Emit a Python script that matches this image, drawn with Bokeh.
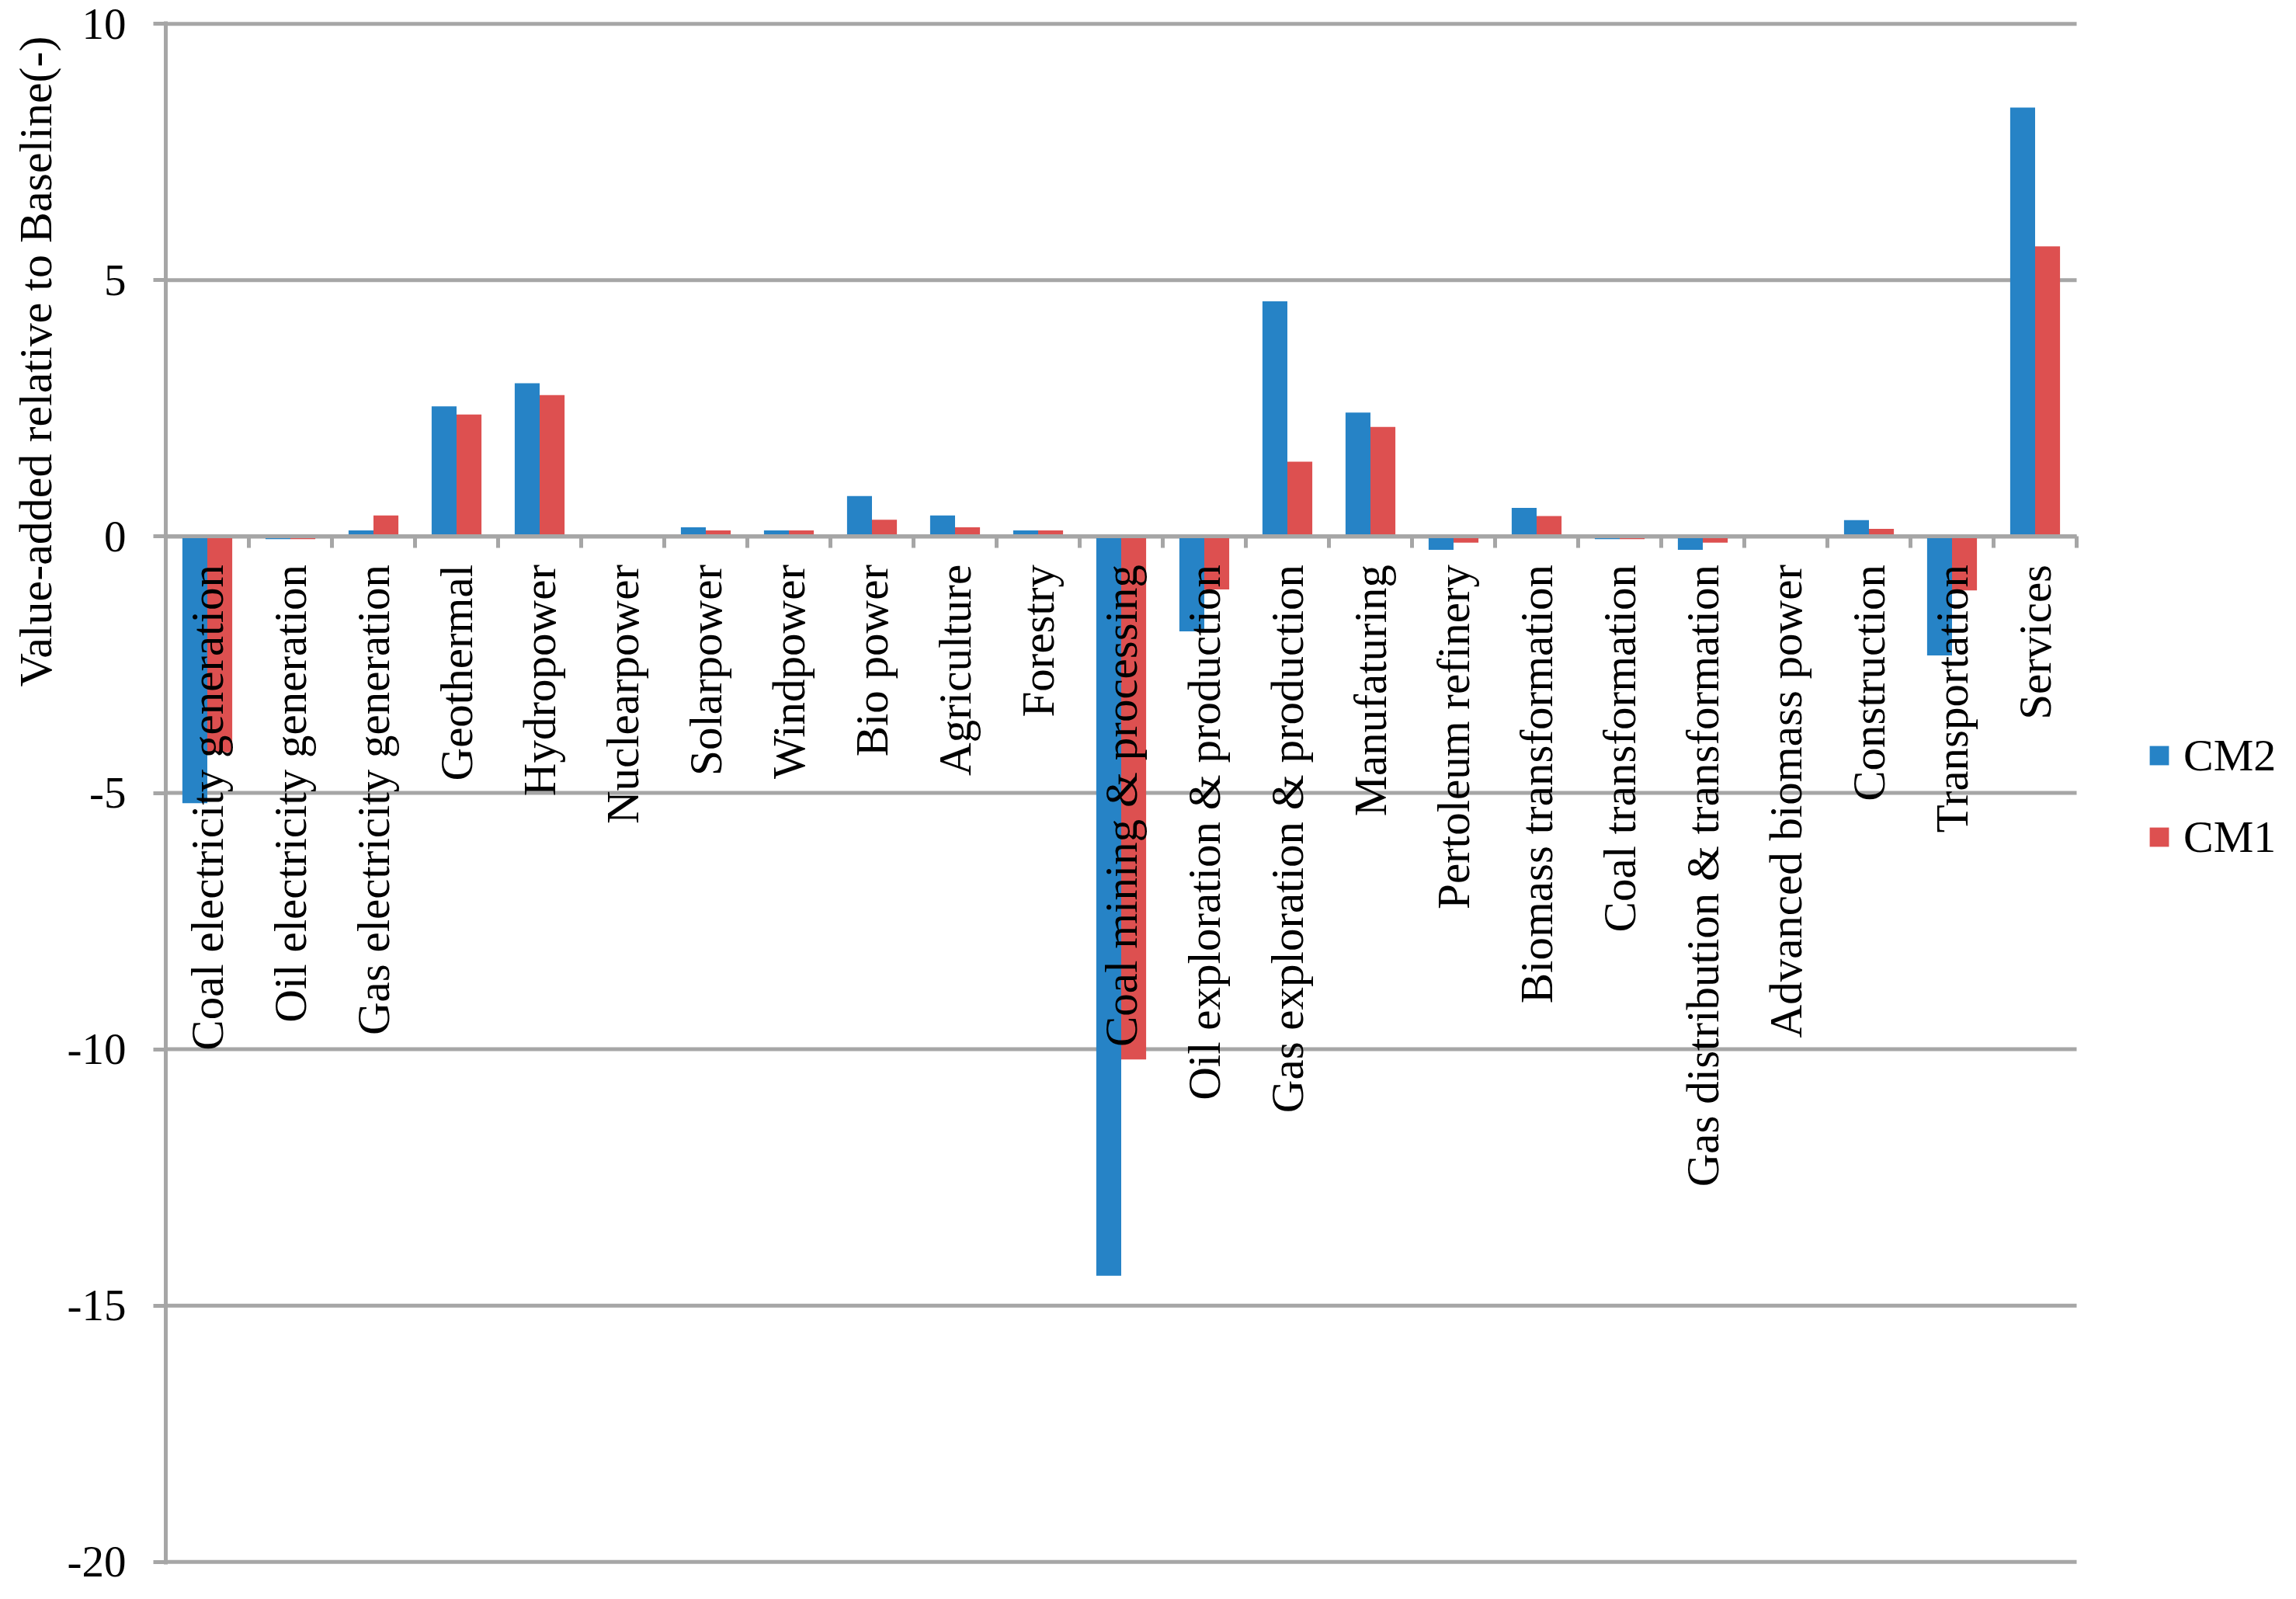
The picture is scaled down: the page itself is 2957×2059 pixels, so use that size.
import math
import numpy as np
from bokeh.plotting import figure
from bokeh.models import (Range1d, FixedTicker, ColumnDataSource, Title, Legend)
from bokeh.core.properties import value
from bokeh.embed import file_html
from bokeh.resources import INLINE

categories = [
    "Coal electricity generation", "Oil electricity generation", "Gas electricity generation",
    "Geothermal", "Hydropower", "Nuclearpower", "Solarpower", "Windpower", "Bio power",
    "Agriculture", "Forestry", "Coal mining & processing", "Oil exploration & production",
    "Gas exploration & production", "Manufaturing", "Pertoleum refinery",
    "Biomass transformation", "Coal transformation", "Gas distribution & transformation",
    "Advanced biomass power", "Construction", "Transportation", "Services",
]
cm2 = [-5.20, -0.05, 0.12, 2.54, 2.99, 0.0, 0.18, 0.12, 0.79, 0.41, 0.12, -14.42, -1.85,
       4.59, 2.42, -0.26, 0.56, -0.05, -0.26, 0.0, 0.32, -2.32, 8.37]
cm1 = [-4.21, -0.05, 0.41, 2.38, 2.76, 0.0, 0.12, 0.12, 0.33, 0.18, 0.12, -10.20, -1.03,
       1.46, 2.14, -0.12, 0.40, -0.05, -0.12, 0.0, 0.15, -1.05, 5.66]
y_ticks = [-20, -15, -10, -5, 0, 5, 10]
series_names = ["CM2", "CM1"]
y_title = "Value-added relative to Baseline(-)"

BLUE = "#2683C6"
RED = "#DD5050"
GRAY = "#A6A6A6"
FONT = "Liberation Serif"

n = len(categories)
centers = np.arange(n) + 0.5
bar_w = 0.3

# frame geometry: categories occupy 2461 px; frame extends further right to host the legend
FIG_W, FIG_H = 2940, 2043
LEFT, TOP, BOTTOM, RIGHT = 213, 27, 29, 10
cat_px = 2461.0 / n
x_end = (FIG_W - LEFT - RIGHT) / cat_px

src = ColumnDataSource(dict(
    x2=centers - bar_w / 2, x1=centers + bar_w / 2, xc=centers,
    cm2=cm2, cm1=cm1, cat=categories,
))
grid_src = ColumnDataSource(dict(y=y_ticks, x0=[0] * len(y_ticks), x1=[n] * len(y_ticks)))

p = figure(width=FIG_W, height=FIG_H, output_backend="svg", toolbar_location=None,
           x_range=Range1d(0, x_end), y_range=Range1d(-20.05, 10.05),
           min_border_left=LEFT, min_border_right=RIGHT, min_border_top=TOP,
           min_border_bottom=BOTTOM, title=None)
p.outline_line_color = None
p.background_fill_color = "white"

# horizontal gridlines limited to the category span
p.segment(x0="x0", x1="x1", y0="y", y1="y", source=grid_src,
          line_color=GRAY, line_width=5)

r2 = p.vbar(x="x2", top="cm2", bottom=0, width=bar_w, source=src,
            fill_color=BLUE, line_color=None)
r1 = p.vbar(x="x1", top="cm1", bottom=0, width=bar_w, source=src,
            fill_color=RED, line_color=None)

# y axis
yax = p.yaxis[0]
yax.ticker = FixedTicker(ticks=y_ticks)
yax.major_label_overrides = {t: str(t) for t in y_ticks}
yax.axis_line_color = GRAY
yax.axis_line_width = 5
yax.major_tick_line_color = GRAY
yax.major_tick_line_width = 5
yax.major_tick_out = 16
yax.major_tick_in = 0
yax.minor_tick_line_color = None
yax.major_label_standoff = 35
yax.major_label_text_font = FONT
yax.major_label_text_font_size = "57px"
yax.major_label_text_color = "black"

# x axis at y = 0 with ticks at category boundaries
xax = p.xaxis[0]
xax.fixed_location = 0
xax.bounds = (0, n)
xax.ticker = FixedTicker(ticks=list(range(n + 1)))
xax.major_label_overrides = {i: "" for i in range(n + 1)}
xax.major_label_text_font_size = "0px"
xax.major_label_standoff = 0
xax.axis_line_color = GRAY
xax.axis_line_width = 5
xax.major_tick_line_color = GRAY
xax.major_tick_line_width = 5
xax.major_tick_out = 15
xax.major_tick_in = 0
xax.minor_tick_line_color = None

p.xgrid.visible = False
p.ygrid.visible = False

# category labels, vertical, hanging below the zero axis
p.text(x="xc", y=0, text="cat", source=src, angle=math.pi / 2,
       text_align="right", text_baseline="middle", y_offset=36,
       text_font=value(FONT), text_font_size="59px", text_color="black")

# y axis title (placed near the top of the left side)
p.add_layout(Title(text=y_title, align="right", offset=19, standoff=10,
                   text_font=FONT, text_font_size="60px", text_font_style="normal",
                   text_color="black"), "left")

legend = Legend(items=[(series_names[0], [r2]), (series_names[1], [r1])],
                location=(2552, 903), orientation="vertical",
                glyph_width=31, glyph_height=31, label_height=31,
                label_standoff=16, spacing=38, padding=0, margin=0,
                label_text_font=FONT, label_text_font_size="58px",
                label_text_color="black", border_line_alpha=0,
                background_fill_alpha=0)
p.add_layout(legend)

open("out.html", "w").write(file_html(p, INLINE))
